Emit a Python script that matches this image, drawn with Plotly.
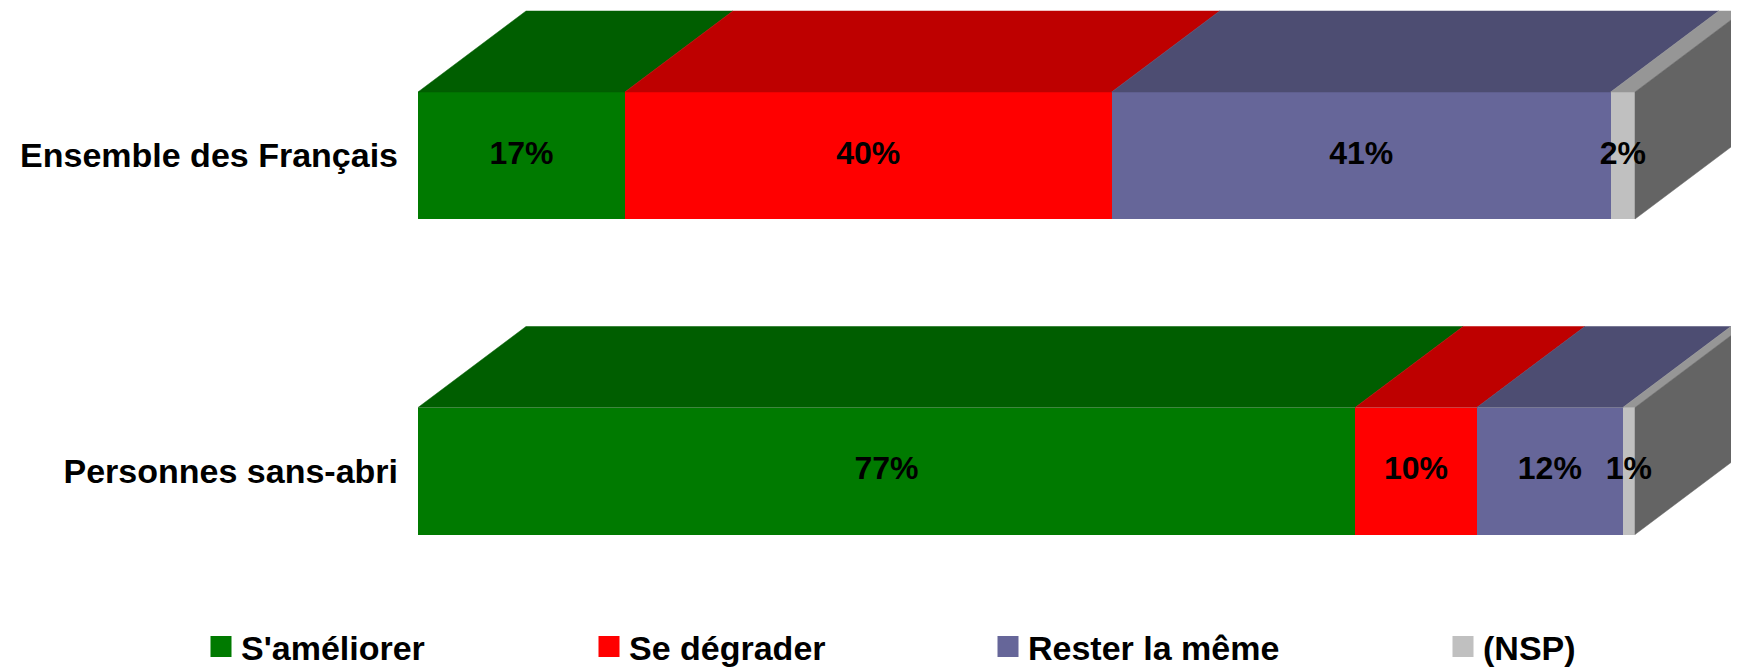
import plotly.graph_objects as go

categories = ["Ensemble des Français", "Personnes sans-abri"]
cat_pos = [1, 0]
series = ["S'améliorer", "Se dégrader", "Rester la même", "(NSP)"]
s_ameliorer = [17, 77]
se_degrader = [40, 10]
rester = [41, 12]
nsp = [2, 1]
values = [s_ameliorer, se_degrader, rester, nsp]
labels = [[f"{v}%" for v in vals] for vals in values]

front_colors = ["#007A00", "#FF0000", "#666699", "#C0C0C0"]
top_colors = ["#005E00", "#BE0000", "#4D4D72", "#969696"]
side_color = "#646464"

OFF = 8  # page body margin
W, H = 1739 - OFF, 667 - OFF
L = 418 - OFF
B = 107
px_per_x = 12.17
px_per_y = 315.5
bar_w = 127 / px_per_y
dx = 108 / px_per_x
dy = 81 / px_per_y
FONT = "Liberation Sans, Arial, sans-serif"

fig = go.Figure()

# front faces (stacked bars)
for s, name in enumerate(series):
    fig.add_trace(go.Bar(
        y=cat_pos, x=values[s], orientation="h", width=bar_w,
        marker=dict(color=front_colors[s], line=dict(width=0)),
        name=name, showlegend=False, hoverinfo="skip"))

# top faces and side face
for i, yc in enumerate(cat_pos):
    yt = yc + bar_w / 2
    yb = yc - bar_w / 2
    start = 0
    for s in range(len(series)):
        x0, x1 = start, start + values[s][i]
        fig.add_trace(go.Scatter(
            x=[x0, x1, x1 + dx, x0 + dx, x0], y=[yt, yt, yt + dy, yt + dy, yt],
            fill="toself", fillcolor=top_colors[s], mode="lines",
            line=dict(width=0.5, color=top_colors[s]),
            showlegend=False, hoverinfo="skip"))
        start = x1
    fig.add_trace(go.Scatter(
        x=[start, start, start + dx, start + dx, start],
        y=[yb, yt, yt + dy, yb + dy, yb],
        fill="toself", fillcolor=side_color, mode="lines",
        line=dict(width=0.5, color=side_color),
        showlegend=False, hoverinfo="skip"))

# value labels
for s in range(len(series)):
    xs = []
    for i in range(len(cat_pos)):
        base = sum(values[k][i] for k in range(s))
        xs.append(base + values[s][i] / 2)
    fig.add_trace(go.Scatter(
        x=xs, y=cat_pos, mode="text", text=labels[s],
        textfont=dict(family=FONT, size=32, color="black", weight="bold"),
        showlegend=False, hoverinfo="skip", cliponaxis=False))

# legends (one per entry to match the reference's spacing)
legend_names = ["legend", "legend2", "legend3", "legend4"]
legend_centers = [222, 610, 1009, 1464]
for s, name in enumerate(series):
    fig.add_trace(go.Scatter(
        x=[0], y=[-5], mode="markers", name=name,
        marker=dict(symbol="square", size=16, color=front_colors[s],
                    line=dict(width=5, color=front_colors[s])),
        legend=legend_names[s], showlegend=True, hoverinfo="skip"))

layout_legends = {}
for k, ln in enumerate(legend_names):
    layout_legends[ln] = dict(
        xref="container", yref="container",
        x=(legend_centers[k] - OFF - 21) / W, xanchor="left",
        y=1 - (647 - OFF) / H, yanchor="middle",
        font=dict(family=FONT, size=34, color="black", weight="bold"),
        bgcolor="rgba(0,0,0,0)", borderwidth=0)

plot_h = H - B
x_range = [0, (W - L) / px_per_x]
y_top = 1 + (155.5 - OFF) / px_per_y
y_bot = -(plot_h - (471 - OFF)) / px_per_y

fig.update_layout(
    width=W, height=H, autosize=False,
    margin=dict(l=L, r=0, t=0, b=B, pad=0, autoexpand=False),
    paper_bgcolor="white", plot_bgcolor="white",
    barmode="stack", bargap=0,
    xaxis=dict(range=x_range, autorange=False, visible=False, fixedrange=True),
    yaxis=dict(range=[y_bot, y_top], autorange=False, tickvals=cat_pos, ticktext=categories,
               showgrid=False, zeroline=False, showline=False, ticks="",
               ticklabelstandoff=19, fixedrange=True, automargin=False,
               tickfont=dict(family=FONT, size=34, color="black", weight="bold")),
    **layout_legends,
)

fig.write_html("out.html")
